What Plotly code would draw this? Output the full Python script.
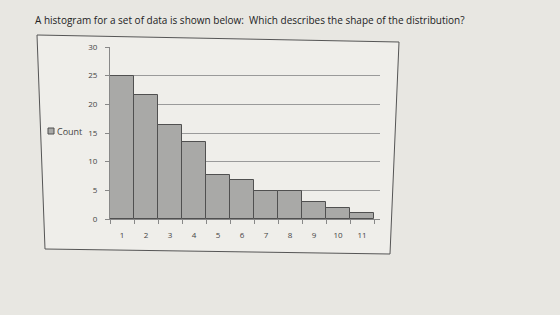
import plotly.graph_objects as go

bins = ["1", "2", "3", "4", "5", "6", "7", "8", "9", "10", "11"]
counts = [25, 21.7, 16.4, 13.4, 7.7, 6.8, 4.8, 4.8, 2.9, 1.9, 1.0]
y_ticks = [0, 5, 10, 15, 20, 25, 30]
title_text = "A histogram for a set of data is shown below:  Which describes the shape of the distribution?"
legend_text = "Count"

W, H = 560, 315
L, R, T, B = 110, 380, 47, 219

def px(x, y):
    return (x - L) / (R - L), (B - y) / (B - T)

fig = go.Figure()
fig.add_trace(go.Bar(
    x=bins, y=counts, name=legend_text,
    marker=dict(color="#a9a9a7", line=dict(color="#505050", width=1)),
))

corners = [px(37, 35), px(399, 42), px(390, 254), px(45, 249)]
path = "M " + " L ".join(f"{a},{b}" for a, b in corners) + " Z"
sq0 = px(48, 128)
sq1 = px(54, 134)

fig.update_layout(
    width=W, height=H,
    margin=dict(l=L, r=W - R, t=T, b=H - B, pad=0, autoexpand=False),
    paper_bgcolor="#e8e7e2",
    plot_bgcolor="rgba(0,0,0,0)",
    bargap=0,
    font=dict(family="Open Sans", color="#333"),
    showlegend=False,
    shapes=[
        dict(type="path", path=path, xref="paper", yref="paper",
             fillcolor="#efeeea", line=dict(color="#555", width=1), layer="below"),
        dict(type="rect", xref="paper", yref="paper", x0=sq0[0], y0=sq0[1],
             x1=sq1[0], y1=sq1[1], fillcolor="#a9a9a7", line=dict(color="#505050", width=1)),
    ],
    annotations=[
        dict(text=title_text, xref="paper", yref="paper",
             x=px(33, 0)[0], y=px(0, 20)[1], xanchor="left", yanchor="middle",
             showarrow=False, font=dict(size=10, color="#222")),
        dict(text=legend_text, xref="paper", yref="paper",
             x=px(55, 0)[0], y=px(0, 131)[1], xanchor="left", yanchor="middle",
             showarrow=False, font=dict(size=9, color="#444")),
    ],
    xaxis=dict(type="category", range=[-0.5, 10.75], tickson="boundaries",
               ticks="outside", ticklen=4, tickcolor="#888",
               showline=True, linecolor="#888", linewidth=1,
               showgrid=False, tickfont=dict(size=8, color="#444"),
               ticklabelstandoff=8),
    yaxis=dict(range=[0, 30], tickvals=y_ticks, ticks="outside", ticklen=4,
               tickcolor="#888", showline=True, linecolor="#888",
               showgrid=True, gridcolor="#9a9a9a", gridwidth=1,
               zeroline=False, tickfont=dict(size=8, color="#444"),
               ticklabelstandoff=6),
)

fig.write_html("out.html")
